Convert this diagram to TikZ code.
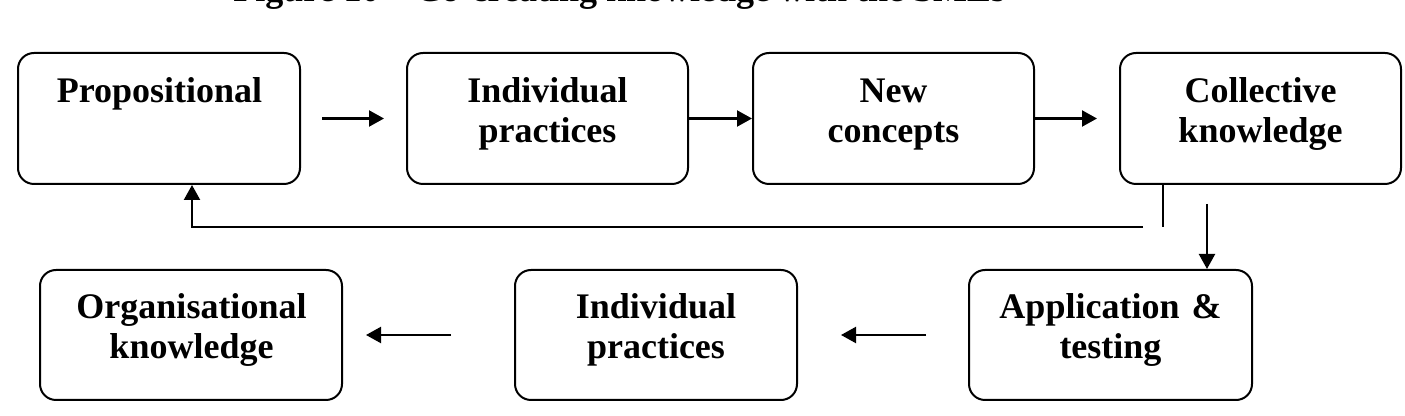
\documentclass[tikz,border=0pt]{standalone}
\usepackage{fontspec}
\setmainfont{Liberation Serif}
\usetikzlibrary{arrows.meta,calc}
\tikzset{
  box/.style={draw, line width=1pt, rounded corners=8pt, inner sep=0pt},
  txt/.style={anchor=base, text width=150pt, align=center, inner sep=0pt,
    font=\fontsize{18}{20}\selectfont\bfseries},
  link/.style={line width=1.1pt},
  arr/.style={line width=1.1pt, -{Triangle[length=7.5pt,width=8pt]}}
}
\begin{document}
\begin{tikzpicture}[x=0.5pt,y=-0.5pt]
\useasboundingbox (0,0) rectangle (1405,416);
\clip (0,0) rectangle (1405,416);
% cut-off title
\node[anchor=base west, inner sep=0pt, font=\fontsize{18}{20}\selectfont\bfseries] (title) at (233,1.5) {Figure 10 -- Co-creating knowledge with the SMEs};
% boxes
\node[box, minimum width=141pt, minimum height=65.5pt] (b1) at (159,118.5) {};
\node[box, minimum width=140.5pt, minimum height=65.5pt] (b2) at (547.5,118.5) {};
\node[box, minimum width=140.5pt, minimum height=65.5pt] (b3) at (893.5,118.5) {};
\node[box, minimum width=140.5pt, minimum height=65.5pt] (b4) at (1260.5,118.5) {};
\node[box, minimum width=151pt, minimum height=65pt] (b5) at (191,335) {};
\node[box, minimum width=141pt, minimum height=65pt] (b6) at (656,335) {};
\node[box, minimum width=141.5pt, minimum height=65pt] (b7) at (1110.5,335) {};
% texts
\node[txt] (t1) at (159.5,103) {Propositional};
\node[txt] (t2) at (547.5,103) {Individual\\practices};
\node[txt] (t3) at (893.5,103) {New\\concepts};
\node[txt] (t4) at (1260.5,103) {Collective\\knowledge};
\node[txt] (t5) at (191.5,319) {Organisational\\knowledge};
\node[txt] (t6) at (656,319) {Individual\\practices};
\node[txt] (t7) at (1110.5,319) {Application \&\\testing};
% top row arrows
\draw[arr, shorten <=10.5pt, shorten >=11pt] (b1) -- (b2);
\draw[arr] (b2) -- (b3);
\draw[arr, shorten >=11pt] (b3) -- (b4);
% bottom row arrows
\draw[arr, shorten <=21pt, shorten >=21.5pt] (b7) -- (b6);
\draw[arr, shorten <=31.5pt, shorten >=11.5pt] (b6) -- (b5);
% down arrow
\coordinate (dn) at (1207,184);
\draw[arr, shorten <=10pt] (dn) -- (dn |- b7.north);
% feedback
\coordinate (stub) at (1163,184);
\draw[link] (stub) -- ++(0,43);
\coordinate (fbs) at (1143,227);
\coordinate (fbx) at (192,227);
\draw[arr] (fbs) -- (fbx) -- (fbx |- b1.south);
\end{tikzpicture}
\end{document}
